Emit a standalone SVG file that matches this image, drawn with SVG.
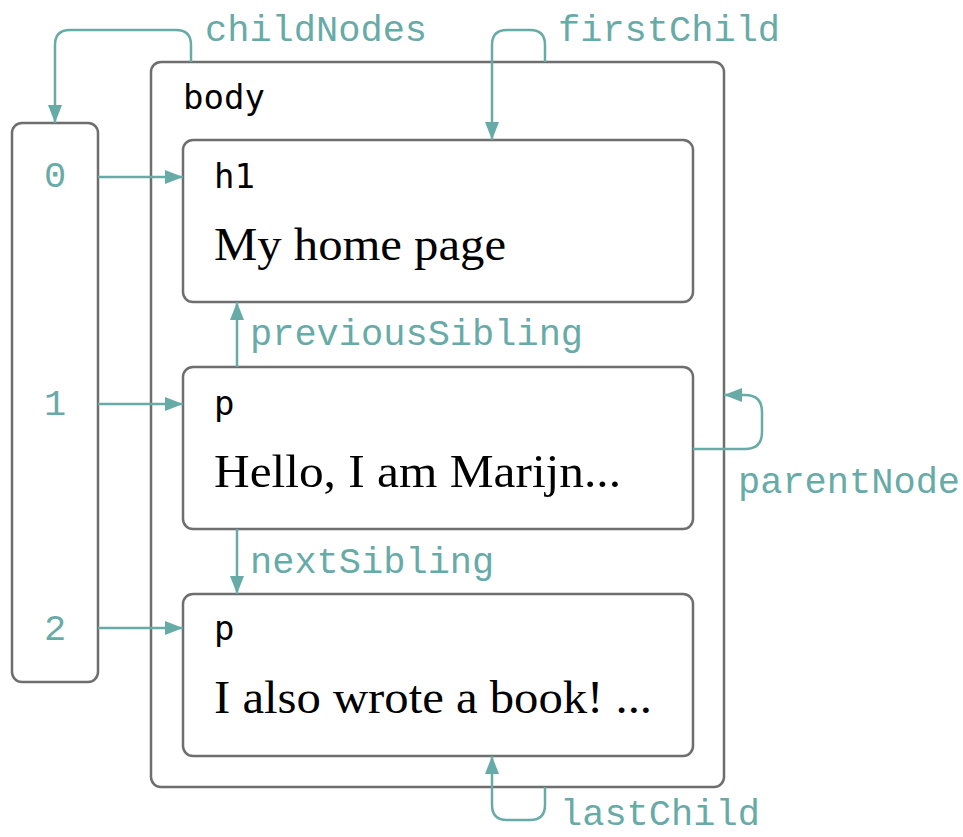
<svg xmlns="http://www.w3.org/2000/svg" width="963" height="837" viewBox="0 0 963 837">
  <style>
    .box { fill: #ffffff; stroke: #6e6e6e; stroke-width: 2.5; }
    .link { fill: none; stroke: #67aba8; stroke-width: 2.5; }
    .lbl { font-family: "Liberation Mono", "DejaVu Sans Mono", monospace; font-size: 37px; fill: #67aba8; }
    .tag { font-family: "DejaVu Sans Mono", "Liberation Mono", monospace; font-size: 34px; fill: #000000; }
    .txt { font-family: "Liberation Serif", "DejaVu Serif", serif; font-size: 47px; fill: #000000; }
  </style>
  <defs>
    <marker id="arrow" viewBox="0 0 18 14" refX="18" refY="7" markerWidth="18" markerHeight="14" markerUnits="userSpaceOnUse" orient="auto">
      <path d="M0,0 L18,7 L0,14 Z" fill="#67aba8"/>
    </marker>
  </defs>

  <!-- body element containing the three children -->
  <g id="body">
    <rect class="box" x="151" y="62" width="573" height="725" rx="10"/>
    <text class="tag" x="183" y="109">body</text>
  </g>

  <!-- childNodes array -->
  <g id="childNodes-array">
    <rect class="box" x="12" y="123" width="86" height="559" rx="10"/>
    <text class="lbl" x="55" y="187" text-anchor="middle">0</text>
    <text class="lbl" x="55" y="415" text-anchor="middle">1</text>
    <text class="lbl" x="55" y="640" text-anchor="middle">2</text>
  </g>

  <g id="h1">
    <rect class="box" x="183" y="140" width="510" height="162" rx="10"/>
    <text class="tag" x="214" y="188">h1</text>
    <text class="txt" x="214" y="260" textLength="292" lengthAdjust="spacingAndGlyphs">My home page</text>
  </g>

  <g id="p1">
    <rect class="box" x="183" y="367" width="510" height="162" rx="10"/>
    <text class="tag" x="214" y="415">p</text>
    <text class="txt" x="214" y="487" textLength="407" lengthAdjust="spacingAndGlyphs">Hello, I am Marijn...</text>
  </g>

  <g id="p2">
    <rect class="box" x="183" y="594" width="510" height="162" rx="10"/>
    <text class="tag" x="214" y="640">p</text>
    <text class="txt" x="214" y="713" textLength="438" lengthAdjust="spacingAndGlyphs">I also wrote a book! ...</text>
  </g>

  <!-- connectors -->
  <g id="connectors">
    <!-- childNodes: body -> array -->
    <path class="link" d="M191,62 V45 Q191,30 176,30 H70 Q55,30 55,45 V123" marker-end="url(#arrow)"/>
    <!-- array entries -> children -->
    <path class="link" d="M98,177 H183" marker-end="url(#arrow)"/>
    <path class="link" d="M98,404 H183" marker-end="url(#arrow)"/>
    <path class="link" d="M98,628 H183" marker-end="url(#arrow)"/>
    <!-- firstChild -->
    <path class="link" d="M545,62 V45 Q545,30 530,30 H507 Q492,30 492,45 V140" marker-end="url(#arrow)"/>
    <!-- previousSibling / nextSibling -->
    <path class="link" d="M237,367 V302" marker-end="url(#arrow)"/>
    <path class="link" d="M237,529 V594" marker-end="url(#arrow)"/>
    <!-- parentNode -->
    <path class="link" d="M693,449 H745 Q762,449 762,432 V412 Q762,395 745,395 H724" marker-end="url(#arrow)"/>
    <!-- lastChild -->
    <path class="link" d="M545,787 V805 Q545,820 530,820 H507 Q492,820 492,805 V756" marker-end="url(#arrow)"/>

    <text class="lbl" x="205" y="41">childNodes</text>
    <text class="lbl" x="558" y="41">firstChild</text>
    <text class="lbl" x="250" y="345">previousSibling</text>
    <text class="lbl" x="250" y="573">nextSibling</text>
    <text class="lbl" x="738" y="493">parentNode</text>
    <text class="lbl" x="560" y="825">lastChild</text>
  </g>
</svg>
